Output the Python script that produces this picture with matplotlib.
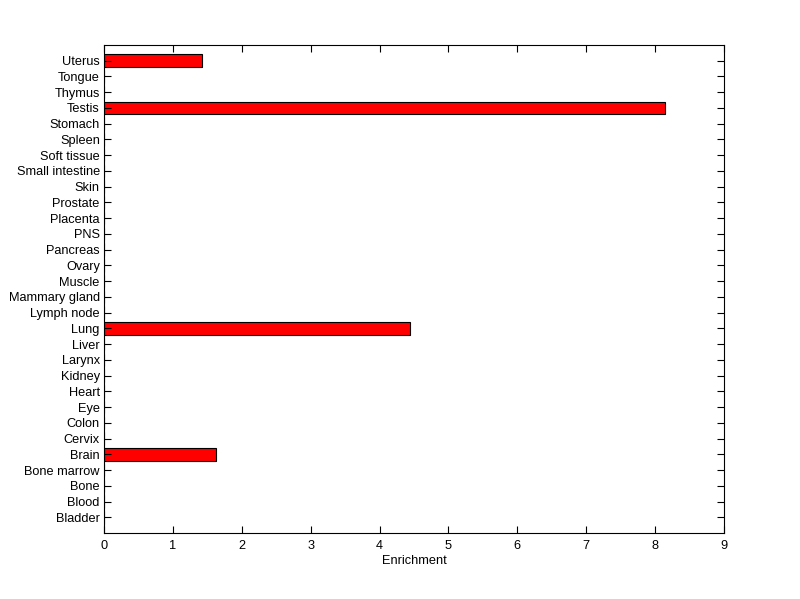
import matplotlib
matplotlib.use("Agg")
import matplotlib.pyplot as plt

tissues = ["Bladder", "Blood", "Bone", "Bone marrow", "Brain", "Cervix", "Colon", "Eye",
           "Heart", "Kidney", "Larynx", "Liver", "Lung", "Lymph node", "Mammary gland",
           "Muscle", "Ovary", "Pancreas", "PNS", "Placenta", "Prostate", "Skin",
           "Small intestine", "Soft tissue", "Spleen", "Stomach", "Testis", "Thymus",
           "Tongue", "Uterus"]
enrichment = [0, 0, 0, 0, 1.63, 0, 0, 0, 0, 0, 0, 0, 4.44, 0, 0, 0, 0, 0, 0, 0, 0, 0,
              0, 0, 0, 0, 8.14, 0, 0, 1.42]
xticks = list(range(0, 10))

plt.rcParams['font.family'] = ['Liberation Sans', 'DejaVu Sans']
fig = plt.figure(figsize=(8.0, 5.99), dpi=100)
ax = fig.add_axes([0.13, 0.110, 0.775, 0.815])
pos = list(range(1, len(tissues) + 1))
ax.barh(pos, enrichment, height=0.8, color='#ff0000', edgecolor='black', linewidth=0.8)
ax.set_xlim(0, 9)
ax.set_ylim(0, len(tissues) + 1)
ax.set_yticks(pos)
ax.set_yticklabels(tissues, fontsize=9.2)
ax.set_xticks(xticks)
ax.set_xticklabels([str(t) for t in xticks], fontsize=9.2)
ax.set_xlabel("Enrichment", fontsize=9.2, labelpad=2)
ax.tick_params(axis='y', direction='in', length=5, width=0.8, right=True, pad=3)
ax.tick_params(axis='x', direction='in', length=5, width=0.8, top=True, pad=5)
for s in ax.spines.values():
    s.set_linewidth(0.8)
fig.savefig("out.png", dpi=100, facecolor='white')
